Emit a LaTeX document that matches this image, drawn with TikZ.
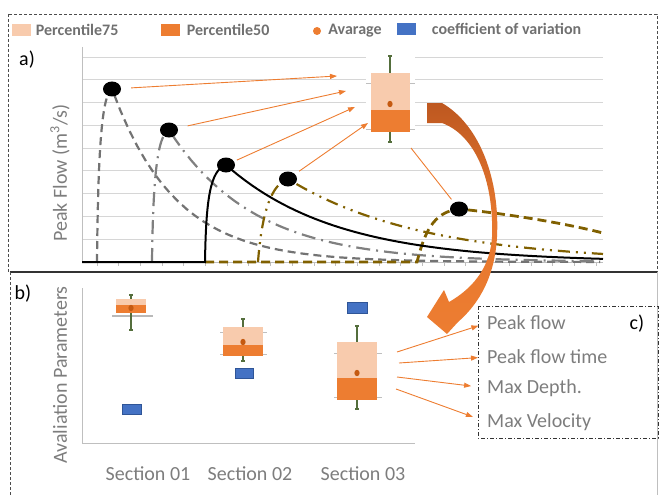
\documentclass[tikz,border=0pt]{standalone}
\usepackage{fontspec}
\setmainfont{Carlito}
\usetikzlibrary{arrows.meta, positioning, shapes.geometric}

\definecolor{pctlight}{RGB}{248,203,173}
\definecolor{pctdark}{RGB}{237,125,49}
\definecolor{meanorange}{RGB}{197,90,17}
\definecolor{cvblue}{RGB}{68,114,196}
\definecolor{cvedge}{RGB}{47,85,151}
\definecolor{whiskgreen}{RGB}{84,110,60}
\definecolor{olivecurve}{RGB}{128,96,0}
\definecolor{labelgray}{RGB}{125,125,125}
\definecolor{gridgray}{RGB}{214,214,214}
\definecolor{axisgray}{RGB}{191,191,191}
\definecolor{arrowbrown}{RGB}{190,88,32}

% box plot: cx, half width, whisker top, box top, median, box bottom, whisker bottom, mean
\newcommand{\bxplot}[8]{%
  \draw[whisker] (#1,#3) -- (#1,#7) (#1-2,#3) -- (#1+2,#3) (#1-2,#7) -- (#1+2,#7);
  \fill[pctlight] (#1-#2,#4) rectangle (#1+#2,#5);
  \fill[pctdark] (#1-#2,#5) rectangle (#1+#2,#6);
  \fill[meanorange] (#1,#8) ellipse (2.6pt and 3.2pt);
}

\begin{document}
\begin{tikzpicture}[x=1pt, y=-1pt,
  gridline/.style={draw=gridgray, line width=0.9pt},
  axisline/.style={draw=axisgray, line width=0.9pt},
  qtick/.style={draw=axisgray, line width=0.9pt},
  whisker/.style={draw=whiskgreen, line width=1.6pt},
  crvA/.style={draw=gray!90!black, line width=2.2pt, dash pattern=on 8pt off 5pt},
  crvB/.style={draw=gray, line width=2.2pt, dash pattern=on 14pt off 6pt on 2pt off 6pt},
  crvC/.style={draw=black, line width=2pt},
  crvD/.style={draw=olivecurve, line width=2.2pt, dash pattern=on 12pt off 6pt on 2pt off 6pt on 2pt off 6pt},
  crvE/.style={draw=olivecurve, line width=2.8pt, dash pattern=on 9pt off 5pt},
  peakdot/.style={ellipse, fill=black, minimum width=18pt, minimum height=15pt, inner sep=0pt},
  flowarrow/.style={draw=pctdark, line width=0.9pt, -{Triangle[length=7pt, width=5pt]}},
  flowline/.style={draw=pctdark, line width=0.9pt},
  swatch/.style={minimum width=19pt, minimum height=12pt, inner sep=0pt},
  legtxt/.style={text=labelgray!90!black, font=\fontsize{16}{20}\selectfont\bfseries, inner sep=0pt},
  axtitle/.style={text=labelgray, font=\fontsize{20}{24}\selectfont, inner sep=0pt},
  paneltag/.style={text=black, font=\fontsize{20}{24}\selectfont, inner sep=0pt},
  cvbox/.style={fill=cvblue, draw=cvedge, line width=0.6pt}
]
\useasboundingbox (0,0) rectangle (659,495);

% frames
\draw[black!70, line width=0.8pt, dash pattern=on 3pt off 2pt] (8,14) rectangle (657,272);
\draw[black!80, line width=1.2pt] (10,272) -- (657,272);
\draw[black!70, line width=0.8pt, dash pattern=on 3pt off 2pt] (10,272) -- (10,495);
\draw[axisgray, line width=0.8pt] (657,272) -- (657,495);

% legend
\node[swatch, fill=pctlight] (sw75) at (21,30) {};
\node[legtxt, right=5pt of sw75] (lg75) {Percentile75};
\node[swatch, fill=pctdark] (sw50) at (170,30) {};
\node[legtxt, right=7pt of sw50] (lg50) {Percentile50};
\node[circle, fill=pctdark, minimum size=8pt, inner sep=0pt] (swavg) at (317,31) {};
\node[legtxt, right=7pt of swavg] (lgavg) {Avarage};
\node[swatch, fill=cvblue] (swcv) at (406,29) {};
\node[legtxt, right=16pt of swcv] (lgcv) {coefficient of variation};

% panel a)
\node[paneltag] (taga) at (27,60) {a)};
\node[axtitle, rotate=90] (ytitA) at (60,173) {Peak Flow (m\textsuperscript{3}/s)};
\foreach \k in {1,...,9}
  \draw[gridline] (82,262-22.78*\k) -- (603,262-22.78*\k);
\fill[white] (366,48) rectangle (415,138);
\draw[axisline] (82,47) -- (82,262) -- (603,262);
\foreach \t in {0,...,23}
  \draw[axisline] (97+21.7*\t,262) -- ++(0,4);

\draw[crvA] (97,262) .. controls (98,160) and (101,95) .. (112,89)
  -- plot[domain=112:600, samples=60] (\x,{262-173*exp(-(\x-112)/63)});
\draw[crvB] (152,262) .. controls (153,180) and (157,135) .. (169,130)
  -- plot[domain=169:600, samples=60] (\x,{262-132*exp(-(\x-169)/85)});
\draw[crvE] (205,262) -- (417,262) .. controls (424,235) and (432,212) .. (459,209)
  .. controls (500,213) and (560,222) .. (603,233);
\draw[crvD] (258,262) .. controls (262,210) and (272,184) .. (288,179)
  -- plot[domain=288:603, samples=60] (\x,{262-83*exp(-(\x-288)/135)});
\draw[crvC] (82,262) -- (205,262) .. controls (206,200) and (210,170) .. (226,165)
  -- plot[domain=226:603, samples=60] (\x,{262-97*exp(-(\x-226)/110)});

\node[peakdot] (pk1) at (112,89) {};
\node[peakdot] (pk2) at (169,130) {};
\node[peakdot] (pk3) at (226,165) {};
\node[peakdot] (pk4) at (288,179) {};
\node[peakdot] (pk5) at (459,209) {};

\coordinate (tg1) at (337,76);
\coordinate (tg2) at (346,91);
\coordinate (tg3) at (355,107);
\coordinate (tg4) at (368,123);
\coordinate (bxa) at (411,148);
\draw[flowarrow, shorten <=10pt] (pk1) -- (tg1);
\draw[flowarrow, shorten <=10pt] (pk2) -- (tg2);
\draw[flowarrow, shorten <=3pt] (pk3) -- (tg3);
\draw[flowarrow, shorten <=5pt] (pk4) -- (tg4);
\draw[flowline, shorten >=4pt] (bxa) -- (pk5);

\draw[qtick] (366,83) -- (415,83) (366,129) -- (415,129);
\bxplot{390}{19.5}{56}{73}{110}{132}{142}{104}

% panel b)
\node[paneltag] (tagb) at (23,294) {b)};
\node[axtitle, rotate=90] (ytitB) at (60,375) {Avaliation Parameters};
\draw[axisline] (82,288) -- (82,443) -- (415,443);

\draw[gray!55, line width=2.5pt] (112,316) -- (153,316);
\bxplot{131}{15}{295}{299}{305}{313}{330}{308}
\draw[qtick] (220,332) -- (267,332) (220,354) -- (267,354);
\bxplot{243}{20}{319}{327}{345}{356}{361}{342}
\draw[qtick] (334,353) -- (382,353) (334,397) -- (382,397);
\bxplot{357}{20}{326}{342}{378}{400}{409}{373}

\draw[cvbox] (122,404) rectangle (141,414);
\draw[cvbox] (235,368) rectangle (253,378);
\draw[cvbox] (347,302) rectangle (367,313);

\node[axtitle] (sec1) at (148,474) {Section 01};
\node[axtitle] (sec2) at (250,474) {Section 02};
\node[axtitle] (sec3) at (363,474) {Section 03};

% panel c)
\draw[black!80, line width=0.8pt, dash pattern=on 4pt off 2pt on 1pt off 2pt] (478,306) rectangle (658,438);
\node[paneltag] (tagc) at (637,324) {c)};
\node[axtitle, anchor=west] (pf) at (487,323) {Peak flow};
\node[axtitle, anchor=west] (pft) at (487,357) {Peak flow time};
\node[axtitle, anchor=west] (mdp) at (487,388) {Max Depth.};
\node[axtitle, anchor=west] (mvel) at (487,422) {Max Velocity};

\coordinate (src1) at (397,352);
\coordinate (src2) at (399,363);
\coordinate (src3) at (397,377);
\coordinate (src4) at (396,389);
\draw[flowarrow, shorten >=9pt] (src1) -- (pf.west);
\draw[flowarrow, shorten >=9pt] (src2) -- (pft.west);
\draw[flowarrow, shorten >=16pt] (src3) -- (mdp.west);
\draw[flowarrow, shorten >=15pt] (src4) -- (mvel.west);

% big curved arrow
\shade[top color=arrowbrown, bottom color=pctdark, middle color=pctdark!85!arrowbrown]
  (427,103) -- (442,103) .. controls (480,125) and (500,180) .. (497,237)
  .. controls (495,275) and (480,303) .. (458,322) -- (447,334) -- (427,317)
  -- (444,290) -- (449,302) .. controls (470,290) and (490,270) .. (492,237)
  .. controls (494,180) and (475,135) .. (442,123) -- (427,123) -- cycle;
\end{tikzpicture}
\end{document}
